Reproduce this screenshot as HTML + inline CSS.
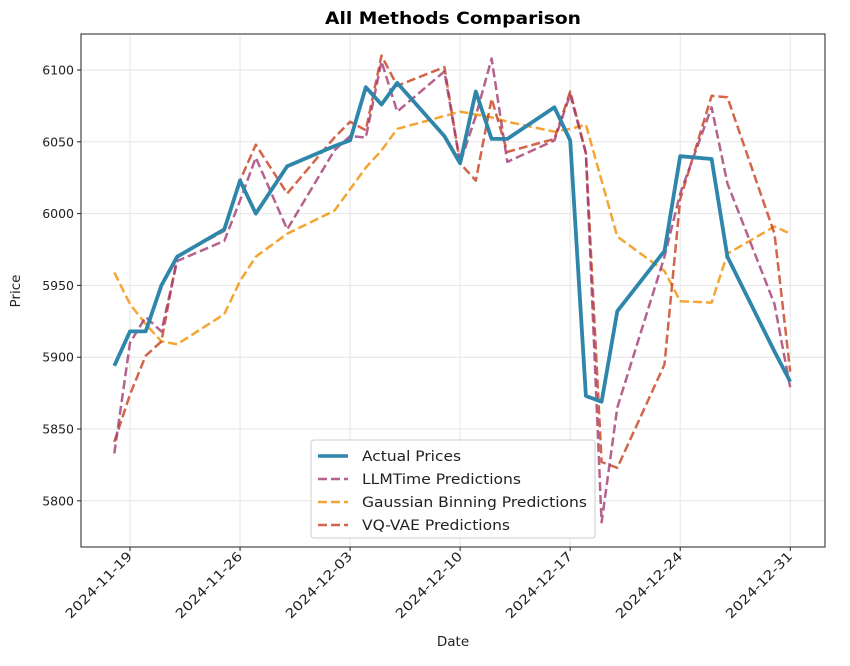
<!DOCTYPE html>
<html><head><meta charset="utf-8"><style>
body{margin:0;background:#fff;}
svg text{font-family:"DejaVu Sans","Liberation Sans",sans-serif;fill:#222;}
</style></head><body>
<svg id="chart" width="850" height="661" xmlns="http://www.w3.org/2000/svg">
<rect width="850" height="661" fill="#fff"/>
<text x="453" y="24" text-anchor="middle" font-size="17" font-weight="bold" textLength="256" lengthAdjust="spacingAndGlyphs" style="fill:#000">All Methods Comparison</text>
<g id="grid"></g>
<g id="series"></g>
<rect x="81" y="34" width="744" height="513" fill="none" stroke="#222" stroke-width="1"/>
<g id="axes"></g>
<text transform="translate(20,291) rotate(-90)" text-anchor="middle" font-size="13.5">Price</text>
<text x="453" y="646" text-anchor="middle" font-size="13.5">Date</text>
<g>
<rect x="311" y="440" width="284" height="98" rx="3" fill="#fff" fill-opacity="0.85" stroke="#ccc"/>
<line x1="318" y1="456" x2="348" y2="456" stroke="#2E86AB" stroke-width="3.5"/>
<text x="362" y="461" font-size="14" textLength="99" lengthAdjust="spacingAndGlyphs">Actual Prices</text>
<line x1="318" y1="479" x2="348" y2="479" stroke="#A23B72" stroke-opacity="0.8" stroke-width="2.5" stroke-dasharray="9,4"/>
<text x="362" y="484" font-size="14" textLength="159" lengthAdjust="spacingAndGlyphs">LLMTime Predictions</text>
<line x1="318" y1="502" x2="348" y2="502" stroke="#F18F01" stroke-opacity="0.8" stroke-width="2.5" stroke-dasharray="9,4"/>
<text x="362" y="507" font-size="14" textLength="225" lengthAdjust="spacingAndGlyphs">Gaussian Binning Predictions</text>
<line x1="318" y1="525" x2="348" y2="525" stroke="#C73E1D" stroke-opacity="0.8" stroke-width="2.5" stroke-dasharray="9,4"/>
<text x="362" y="530" font-size="14" textLength="148" lengthAdjust="spacingAndGlyphs">VQ-VAE Predictions</text>
</g>
</svg>
<script>
// days offset from 2024-11-19
const dayOffsets=[-1,0,1,2,3,6,7,8,10,13,14,15,16,17,20,21,22,23,24,27,28,29,30,31,34,35,37,38,41,42];
const actual=[5894,5918,5918,5950,5970,5989,6023,6000,6033,6047,6051,6088,6076,6091,6054,6035,6085,6052,6052,6074,6051,5873,5869,5932,5974,6040,6038,5970,5904,5883];
const llmtime=[5833,5910,5928,5918,5967,5981,6009,6039,5989,6044,6054,6053,6106,6071,6099,6035,6068,6108,6036,6051,6083,6042,5785,5865,5970,6014,6074,6021,5937,5879];
const gaussian=[5959,5937,5923,5911,5909,5930,5953,5970,5986,6002,6017,6032,6044,6059,6068,6071,6069,6067,6064,6057,6059,6062,6023,5984,5960,5939,5938,5972,5991,5986];
const vqvae=[5841,5874,5901,5911,5970,5988,6023,6048,6014,6053,6064,6058,6110,6089,6102,6035,6023,6080,6043,6052,6085,6042,5827,5823,5895,6010,6082,6081,5986,5890];
const yTicks=[5800,5850,5900,5950,6000,6050,6100];
const xTickDays=[0,7,14,21,28,35,42];
const xTickLabels=["2024-11-19","2024-11-26","2024-12-03","2024-12-10","2024-12-17","2024-12-24","2024-12-31"];

const NS="http://www.w3.org/2000/svg";
const X0=81,X1=825,Y0=34,Y1=547;
function xs(d){return 130+d*15.72;}
function ys(v){return 70+(6100-v)*1.436;}
function mk(tag,attrs,parent){const e=document.createElementNS(NS,tag);for(const k in attrs)e.setAttribute(k,attrs[k]);parent.appendChild(e);return e;}
const grid=document.getElementById('grid'),axes=document.getElementById('axes'),ser=document.getElementById('series');
yTicks.forEach(v=>{
  const y=ys(v);
  const g=mk('line',{x1:X0,x2:X1,y1:y,y2:y,stroke:'#e6e6e6','stroke-width':1},grid);
  
  
  mk('line',{x1:X0-4,x2:X0,y1:y,y2:y,stroke:'#222'},axes);
  const t=mk('text',{x:X0-7,y:y+4.5,'text-anchor':'end','font-size':'12.5'},axes);
  t.textContent=v;
  
  
});
xTickDays.forEach((d,i)=>{
  const x=xs(d);
  const g=mk('line',{x1:x,x2:x,y1:Y0,y2:Y1,stroke:'#e6e6e6','stroke-width':1},grid);
  
  
  mk('line',{x1:x,x2:x,y1:Y1,y2:Y1+4,stroke:'#222'},axes);
  const t=mk('text',{transform:`translate(${x+3},${Y1+10}) rotate(-45)`,'text-anchor':'end','font-size':'13',textLength:'88',lengthAdjust:'spacingAndGlyphs'},axes);
  t.textContent=xTickLabels[i];
  
  
});
function line(vals,color,w,dash,op,name){
  const pts=vals.map((v,i)=>xs(dayOffsets[i]).toFixed(1)+','+ys(v).toFixed(1)).join(' ');
  const p=mk('polyline',{points:pts,fill:'none',stroke:color,'stroke-width':w,'stroke-opacity':op,'stroke-linejoin':'round'},ser);
  if(dash)p.setAttribute('stroke-dasharray',dash);
  
  
}
line(gaussian,'#F18F01',2.5,'9,4',0.8,'gaussian-line');
line(vqvae,'#C73E1D',2.5,'9,4',0.8,'vqvae-line');
line(llmtime,'#A23B72',2.5,'9,4',0.8,'llmtime-line');
line(actual,'#2E86AB',3.8,null,1,'actual-prices-line');
</script>
</body></html>
